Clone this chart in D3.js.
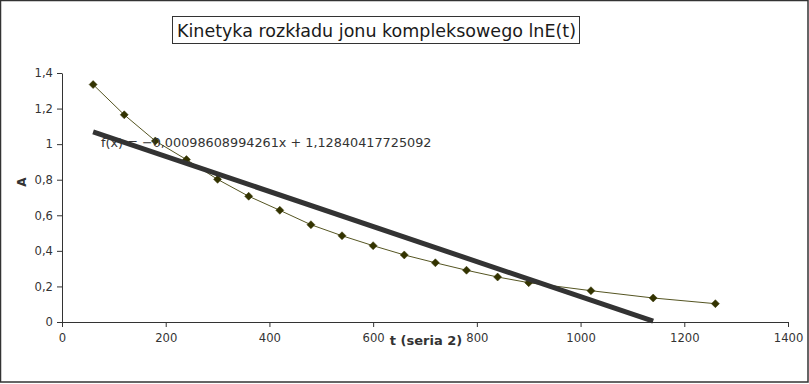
<!DOCTYPE html>
<html>
<head>
<meta charset="utf-8">
<script src="https://cdn.jsdelivr.net/npm/d3@7"></script>
<style>
  body { margin: 0; background: #fff; }
  svg { display: block; font-family: "DejaVu Sans", sans-serif; }
</style>
</head>
<body>
<svg id="svg" width="809" height="384"></svg>
<script>
// data
var times = [60, 120, 180, 240, 300, 360, 420, 480, 540, 600, 660, 720, 780, 840, 900, 1020, 1140, 1260];
var absorb = [1.335, 1.165, 1.018, 0.913, 0.802, 0.707, 0.628, 0.547, 0.485, 0.429, 0.377, 0.333, 0.291, 0.253, 0.221, 0.176, 0.135, 0.103];
var xTicks = [0, 200, 400, 600, 800, 1000, 1200, 1400];
var yTicks = [0, 0.2, 0.4, 0.6, 0.8, 1, 1.2, 1.4];
var slope = -0.00098608994261, intercept = 1.12840417725092;
var trendX = [60, 1140];
var title = "Kinetyka rozkładu jonu kompleksowego lnE(t)";
var eqText = "f(x) = \u22120,00098608994261x + 1,12840417725092";

var svg = d3.select("#svg");
var fmt = d => String(d).replace(".", ",");

// outer frame
svg.append("rect")
  .attr("x", 0.5).attr("y", 0.5)
  .attr("width", 807.5).attr("height", 381.5)
  .attr("fill", "#fff").attr("stroke", "#333").attr("stroke-width", 1.5);

var x = d3.scaleLinear().domain([0, 1400]).range([62, 788]);
var y = d3.scaleLinear().domain([0, 1.4]).range([322, 73]);

var xAxis = svg.append("g")
  .attr("transform", "translate(0,322)")
  .call(d3.axisBottom(x).tickValues(xTicks).tickSize(5).tickSizeOuter(0).tickFormat(fmt));
var yAxis = svg.append("g")
  .attr("transform", "translate(62,0)")
  .call(d3.axisLeft(y).tickValues(yTicks).tickSize(5).tickSizeOuter(0).tickFormat(fmt));

[xAxis, yAxis].forEach(function(g){
  g.selectAll("path, line").attr("stroke", "#333");
  g.selectAll("text").attr("fill", "#333").style("font-size", "11.6px").style("font-family", "DejaVu Sans");
});
xAxis.selectAll("text").attr("dy", "1.05em");
yAxis.selectAll("text").attr("x", -9);

// axis titles
svg.append("text")
  .attr("transform", "translate(26,182) rotate(-90)")
  .attr("text-anchor", "middle")
  .style("font-size", "12px").style("font-weight", 700)
  .attr("fill", "#333")
  .text("A");
svg.append("text")
  .attr("x", 426).attr("y", 345)
  .attr("text-anchor", "middle")
  .style("font-size", "13px").style("font-weight", 700)
  .attr("fill", "#333")
  .text("t (seria 2)");

// title box
var tg = svg.append("g");
tg.append("rect")
  .attr("x", 172.5).attr("y", 16.5)
  .attr("width", 407).attr("height", 27)
  .attr("fill", "#fff").attr("stroke", "#333");
tg.append("text")
  .attr("x", 376.5).attr("y", 37)
  .attr("text-anchor", "middle")
  .style("font-size", "17.5px")
  .attr("fill", "#1a1a1a")
  .text(title);

// data series
var pts = times.map((t, i) => [t, absorb[i]]);
svg.append("path")
  .datum(pts)
  .attr("fill", "none")
  .attr("stroke", "#555522")
  .attr("stroke-width", 1)
  .attr("d", d3.line().x(d => x(d[0])).y(d => y(d[1])));

svg.selectAll(".pt")
  .data(pts)
  .enter().append("path")
  .attr("class", "pt")
  .attr("transform", d => `translate(${x(d[0])},${y(d[1])})`)
  .attr("d", "M0,-4L4,0L0,4L-4,0Z")
  .attr("fill", "#333300")
  .attr("stroke", "#333300")
  .attr("stroke-width", 0.5);

// trend line
svg.append("path")
  .datum(trendX.map(t => [t, slope * t + intercept]))
  .attr("fill", "none")
  .attr("stroke", "#333")
  .attr("stroke-width", 5)
  .attr("d", d3.line().x(d => x(d[0])).y(d => y(d[1])));

svg.append("text")
  .attr("x", 101).attr("y", 147)
  .style("font-size", "12.8px")
  .attr("fill", "#333")
  .text(eqText);
</script>
</body>
</html>
